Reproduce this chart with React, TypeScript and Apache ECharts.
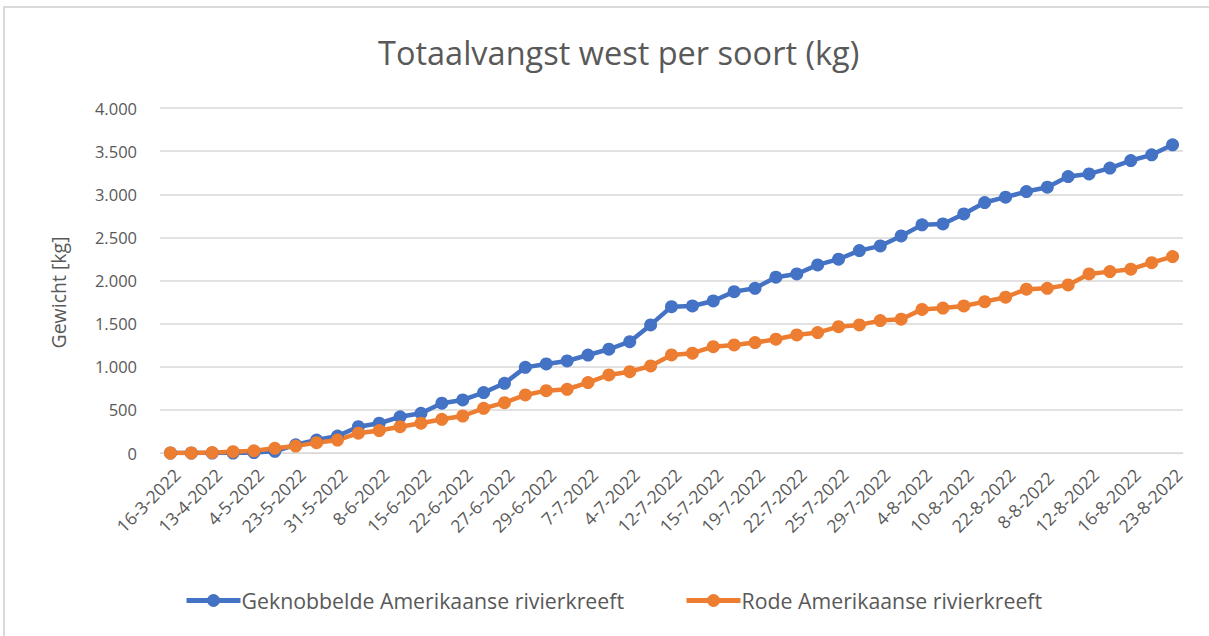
import React, { useEffect, useRef } from "react";
import * as echarts from "echarts";

const categories: string[] = [
  "16-3-2022", "30-3-2022", "13-4-2022", "25-4-2022", "4-5-2022", "11-5-2022",
  "23-5-2022", "27-5-2022", "31-5-2022", "3-6-2022", "8-6-2022", "13-6-2022",
  "15-6-2022", "20-6-2022", "22-6-2022", "24-6-2022", "27-6-2022", "28-6-2022",
  "29-6-2022", "1-7-2022", "7-7-2022", "1-7-2022 ", "4-7-2022", "6-7-2022",
  "12-7-2022", "13-7-2022", "15-7-2022", "18-7-2022", "19-7-2022", "20-7-2022",
  "22-7-2022", "23-7-2022", "25-7-2022", "27-7-2022", "29-7-2022", "1-8-2022",
  "4-8-2022", "8-8-2022", "10-8-2022", "18-8-2022", "22-8-2022", "5-8-2022",
  "8-8-2022 ", "10-8-2022 ", "12-8-2022", "15-8-2022", "16-8-2022", "19-8-2022",
  "23-8-2022",
];

const seriesNames: string[] = [
  "Geknobbelde Amerikaanse rivierkreeft",
  "Rode Amerikaanse rivierkreeft",
];

const geknobbelde: number[] = [
  0, 0, 0, 0, 5, 20, 95, 150, 197, 305, 345, 420, 460, 577, 615, 700, 808, 993,
  1032, 1067, 1136, 1203, 1291, 1485, 1697, 1705, 1763, 1871, 1910, 2038, 2076,
  2181, 2247, 2347, 2401, 2517, 2645, 2656, 2772, 2904, 2966, 3031, 3082, 3205,
  3236, 3303, 3391, 3457, 3573,
];

const rode: number[] = [
  0, 0, 5, 15, 25, 55, 80, 120, 150, 230, 260, 305, 345, 391, 429, 518, 584, 673,
  723, 739, 816, 905, 943, 1009, 1137, 1157, 1233, 1253, 1280, 1319, 1369, 1396,
  1465, 1485, 1535, 1551, 1665, 1680, 1705, 1755, 1806, 1899, 1910, 1949, 2076,
  2103, 2131, 2207, 2277,
];

const yTicks: number[] = [0, 500, 1000, 1500, 2000, 2500, 3000, 3500, 4000];

const colors = ["#4472C4", "#ED7D31"];
const textColor = "#595959";
const font = "'Open Sans', Lato, sans-serif";

function fmt(v: number): string {
  return v.toLocaleString("nl-NL").replace(/\u00a0/g, "");
}

export default function App() {
  const ref = useRef<HTMLDivElement>(null);
  useEffect(() => {
    if (!ref.current) return;
    const chart = echarts.init(ref.current, null, { renderer: "svg" });
    chart.setOption({
      animation: false,
      backgroundColor: "#ffffff",
      textStyle: { fontFamily: font, color: textColor },
      title: {
        text: "Totaalvangst west per soort (kg)",
        left: 373,
        top: 31,
        textStyle: { fontFamily: font, fontSize: 32.5, fontWeight: "normal", color: textColor },
      },
      graphic: [
        {
          type: "rect",
          shape: { x: 4, y: 7, width: 1400, height: 800 },
          style: { fill: "none", stroke: "#d9d9d9", lineWidth: 2 },
          silent: true,
        },
      ],
      grid: { left: 160, right: 26, top: 108, bottom: 183, containLabel: false },
      legend: {
        bottom: 20,
        left: 179,
        itemWidth: 54,
        itemHeight: 16,
        itemGap: 60,
        lineStyle: { width: 5 },
        textStyle: { fontFamily: font, fontSize: 21.3, color: textColor, padding: [0, 0, 0, -4] },
        data: seriesNames,
      },
      xAxis: {
        type: "category",
        data: categories,
        boundaryGap: true,
        axisLine: { show: true, lineStyle: { color: "#d9d9d9", width: 1 } },
        axisTick: { show: false },
        axisLabel: {
          interval: 1,
          rotate: 45,
          fontSize: 17.5,
          color: textColor,
          fontFamily: font,
          margin: 12,
          verticalAlign: "top",
        },
      },
      yAxis: {
        type: "value",
        min: 0,
        max: yTicks[yTicks.length - 1],
        interval: 500,
        name: "Gewicht [kg]",
        nameLocation: "middle",
        nameGap: 92,
        nameRotate: 90,
        nameTextStyle: { fontFamily: font, fontSize: 19.5, color: textColor, padding: [0, 24, 0, 0] },
        axisLine: { show: false },
        axisTick: { show: false },
        axisLabel: {
          fontSize: 16.5,
          color: textColor,
          fontFamily: font,
          margin: 23,
          formatter: (v: number) => fmt(v),
        },
        splitLine: { lineStyle: { color: "#d9d9d9", width: 1.5 } },
      },
      series: [
        {
          name: seriesNames[0],
          type: "line",
          data: geknobbelde,
          color: colors[0],
          symbol: "circle",
          symbolSize: 13,
          lineStyle: { width: 4.5, color: colors[0] },
          itemStyle: { color: colors[0] },
        },
        {
          name: seriesNames[1],
          type: "line",
          data: rode,
          color: colors[1],
          symbol: "circle",
          symbolSize: 13,
          lineStyle: { width: 4.5, color: colors[1] },
          itemStyle: { color: colors[1] },
        },
      ],
    });
    return () => chart.dispose();
  }, []);
  return (
    <div
      ref={ref}
      style={{ position: "absolute", left: 0, top: 0, width: 1209, height: 636 }}
    />
  );
}
